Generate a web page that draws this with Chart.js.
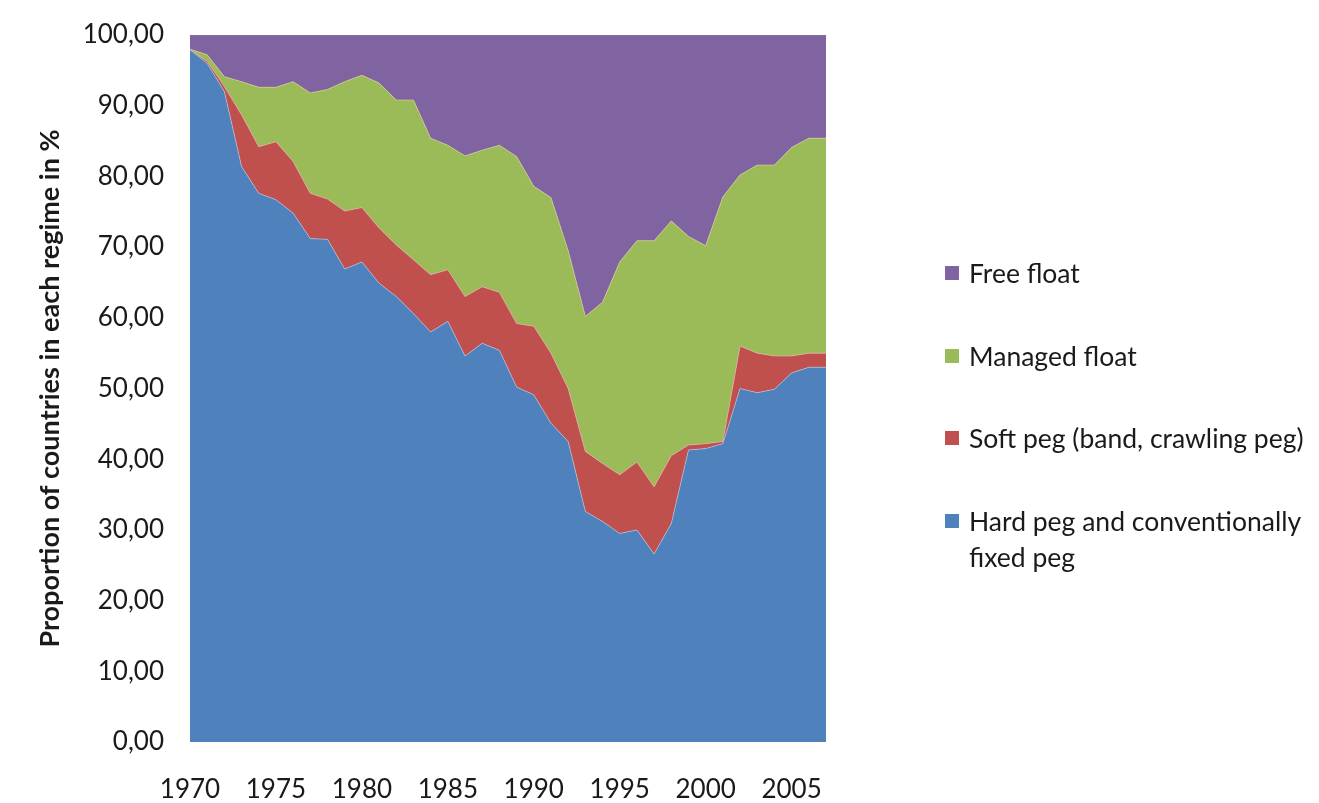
<!DOCTYPE html>
<html>
<head>
<meta charset="utf-8">
<title>Exchange rate regimes 1970-2007</title>
<script src="https://cdn.jsdelivr.net/npm/chart.js@4/dist/chart.umd.min.js"></script>
<style>
  html, body { margin: 0; padding: 0; background: #fff; }
  #wrap { position: relative; width: 1319px; height: 803px; font-family: Lato, 'Open Sans', sans-serif; }
  #wrap canvas { position: absolute; left: 0; top: 0; }
  .leg { position: absolute; left: 969px; font-size: 26.5px; line-height: 36px; color: #1a1a1a; white-space: nowrap; }
  .sw { position: absolute; left: 945px; width: 14px; height: 14px; }
</style>
</head>
<body>
<div id="wrap">
  <canvas id="regimeChart" width="1319" height="803"></canvas>
  <div class="sw" style="top:266px;background:#8064A2"></div>
  <div class="leg" style="top:255px">Free float</div>
  <div class="sw" style="top:349px;background:#9BBB59"></div>
  <div class="leg" style="top:338px">Managed float</div>
  <div class="sw" style="top:431px;background:#C0504D"></div>
  <div class="leg" style="top:420px">Soft peg (band, crawling peg)</div>
  <div class="sw" style="top:514px;background:#4F81BD"></div>
  <div class="leg" style="top:503px">Hard peg and conventionally<br>fixed peg</div>
</div>
<script>
// data, % of countries per regime
const years = [];
for (let y = 1970; y <= 2007; y++) years.push(String(y));

const hardPeg = [97.9, 96.0, 92.0, 81.4, 77.6, 76.7, 74.8, 71.2, 71.1, 66.9,
  67.9, 64.9, 63.0, 60.6, 58.0, 59.5, 54.6, 56.4, 55.4, 50.2,
  49.1, 45.1, 42.5, 32.6, 31.2, 29.5, 30.0, 26.6, 30.9, 41.3,
  41.5, 42.2, 50.0, 49.4, 49.9, 52.2, 53.0, 53.0];
const softPeg = [0.0, 0.3, 0.7, 7.3, 6.6, 8.2, 7.3, 6.4, 5.7, 8.2,
  7.7, 7.8, 7.3, 7.6, 8.1, 7.3, 8.4, 8.0, 8.2, 9.0,
  9.7, 9.9, 7.5, 8.5, 8.2, 8.3, 9.6, 9.5, 9.6, 0.7,
  0.7, 0.3, 6.0, 5.6, 4.7, 2.4, 2.0, 2.0];
const managedFloat = [0.1, 0.9, 1.4, 4.7, 8.4, 7.7, 11.3, 14.2, 15.5, 18.3,
  18.7, 20.5, 20.5, 22.6, 19.3, 17.6, 19.9, 19.3, 20.8, 23.6,
  19.8, 22.0, 19.5, 19.1, 22.8, 30.1, 31.3, 34.8, 33.2, 29.5,
  28.0, 34.6, 24.2, 26.6, 27.0, 29.5, 30.4, 30.4];
const freeFloat = [2.0, 2.8, 5.9, 6.6, 7.4, 7.4, 6.6, 8.2, 7.7, 6.6,
  5.7, 6.8, 9.2, 9.2, 14.6, 15.6, 17.1, 16.3, 15.6, 17.2,
  21.4, 23.0, 30.5, 39.8, 37.8, 32.1, 29.1, 29.1, 26.3, 28.5,
  29.8, 22.9, 19.8, 18.4, 18.4, 15.9, 14.6, 14.6];
const yTicks = [0, 10, 20, 30, 40, 50, 60, 70, 80, 90, 100];

const FONT = 'Lato, "Open Sans", sans-serif';

function area(label, data, color, edge, fill) {
  return {
    label, data, fill,
    backgroundColor: color,
    borderColor: edge,
    borderWidth: 1,
    pointRadius: 0,
    tension: 0,
  };
}

// rotated y axis title
const yTitle = {
  id: 'yTitle',
  afterDraw(chart) {
    const { ctx, chartArea } = chart;
    ctx.save();
    ctx.translate(50, (chartArea.top + chartArea.bottom) / 2);
    ctx.rotate(-Math.PI / 2);
    ctx.font = 'bold 27px ' + FONT;
    ctx.fillStyle = '#1a1a1a';
    ctx.textAlign = 'center';
    ctx.textBaseline = 'middle';
    ctx.fillText('Proportion of countries in each regime in %', 0, 0);
    ctx.restore();
  }
};

new Chart(document.getElementById('regimeChart'), {
  type: 'line',
  data: {
    labels: years,
    datasets: [
      area('Hard peg and conventionally fixed peg', hardPeg, '#4F81BD', 'rgba(200,200,220,.6)', 'origin'),
      area('Soft peg (band, crawling peg)', softPeg, '#C0504D', 'rgba(230,180,170,.7)', '-1'),
      area('Managed float', managedFloat, '#9BBB59', 'rgba(220,200,150,.7)', '-1'),
      area('Free float', freeFloat, '#8064A2', 'rgba(150,130,140,.6)', '-1'),
    ]
  },
  options: {
    responsive: false,
    animation: false,
    layout: { padding: { top: 35, right: 493, bottom: 0, left: 0 } },
    plugins: { legend: { display: false }, tooltip: { enabled: false } },
    scales: {
      x: {
        offset: false,
        grid: { display: false, drawTicks: false },
        border: { display: false },
        afterFit: s => { s.height = 61; s.paddingLeft = 0; s.paddingRight = 0; },
        ticks: {
          autoSkip: false, maxRotation: 0, padding: 32,
          color: '#1a1a1a', font: { family: FONT, size: 26 },
          callback: function (v, i) { return (i % 5 === 0) ? years[i] : ''; }
        }
      },
      y: {
        stacked: true, min: 0, max: 100,
        grid: { display: false, drawTicks: false },
        border: { display: false },
        afterFit: s => { s.width = 190; s.paddingTop = 0; s.paddingBottom = 0; },
        afterBuildTicks: s => { s.ticks = yTicks.map(v => ({ value: v })); },
        ticks: {
          padding: 26, color: '#1a1a1a', font: { family: FONT, size: 26 },
          callback: v => v.toFixed(2).replace('.', ',')
        }
      }
    }
  },
  plugins: [yTitle]
});
</script>
</body>
</html>
